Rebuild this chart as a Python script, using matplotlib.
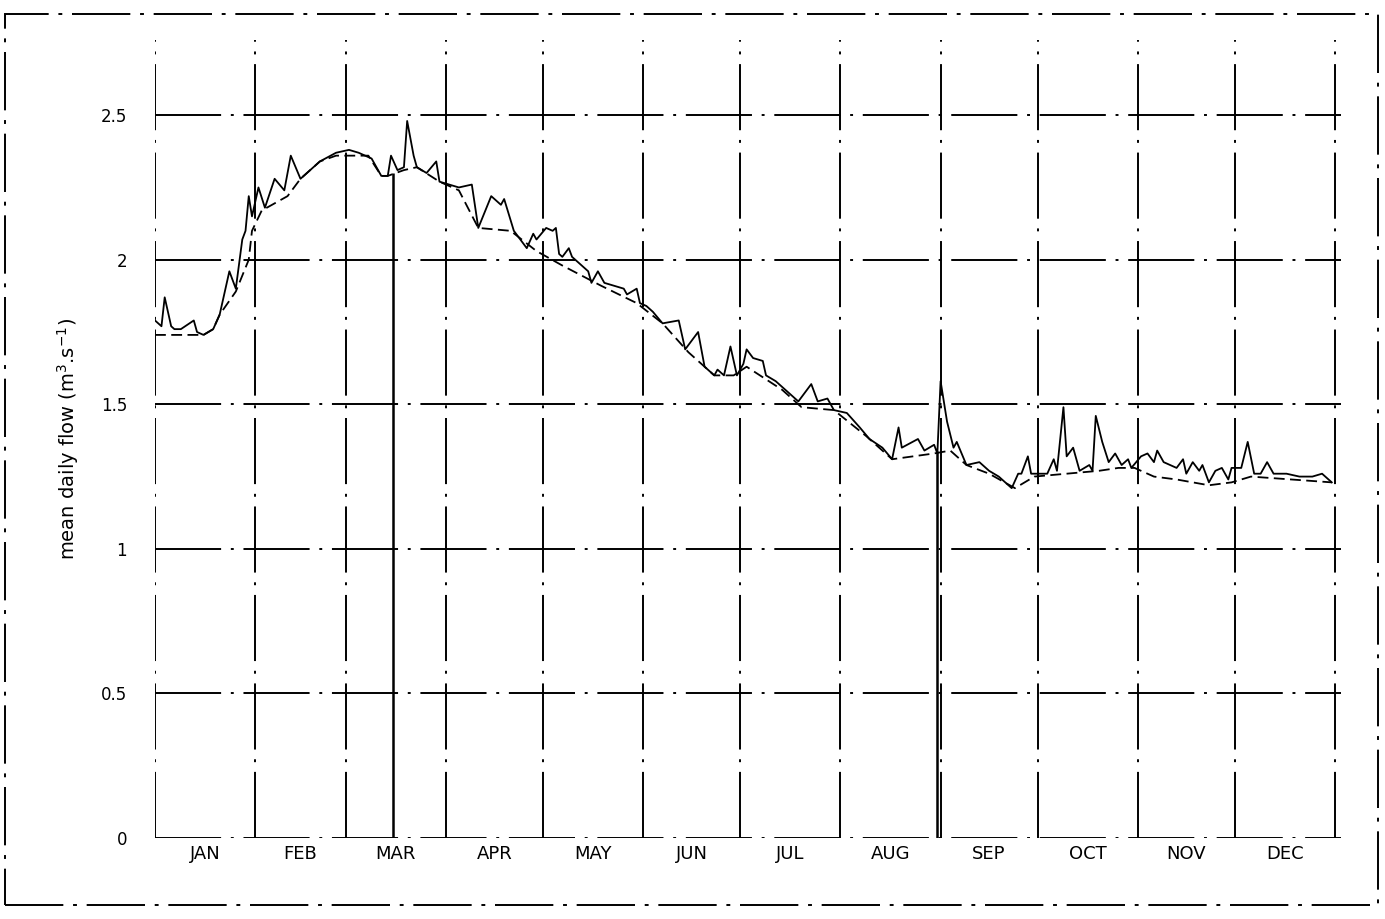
import matplotlib.pyplot as plt
from matplotlib.patches import Rectangle

# mean daily flow (day of year, m3/s)
flow_day = [0, 2, 3, 5, 6, 8, 12, 13, 15, 18, 20, 23, 25, 27, 28, 29, 30, 32, 34, 37, 40,
            42, 45, 48, 51, 56, 60, 63, 67, 70, 72, 73, 75, 77, 78, 80, 81, 84, 87, 88, 94,
            98, 100, 104, 107, 108, 111, 115, 117, 118, 121, 123, 124, 125, 126, 128, 129,
            131, 134, 135, 137, 139, 142, 145, 146, 149, 150, 152, 154, 157, 162, 164, 168,
            170, 173, 174, 176, 178, 180, 182, 183, 185, 188, 189, 192, 194, 196, 199, 203,
            205, 208, 210, 214, 218, 221, 225, 228, 230, 231, 236, 238, 241, 242, 243, 245,
            247, 248, 251, 255, 258, 261, 265, 267, 268, 270, 271, 276, 278, 279, 281, 282,
            284, 286, 289, 290, 291, 293, 295, 297, 299, 301, 302, 305, 307, 309, 310, 312,
            314, 316, 318, 319, 321, 323, 324, 326, 328, 330, 332, 333, 336, 338, 340, 342,
            344, 346, 350, 354, 358, 361, 364]
flow_val = [1.79, 1.77, 1.87, 1.77, 1.76, 1.76, 1.79, 1.75, 1.74, 1.76, 1.81, 1.96, 1.90,
            2.07, 2.10, 2.22, 2.15, 2.25, 2.18, 2.28, 2.24, 2.36, 2.28, 2.31, 2.34, 2.37,
            2.38, 2.37, 2.35, 2.29, 2.29, 2.36, 2.31, 2.32, 2.48, 2.36, 2.32, 2.30, 2.34,
            2.27, 2.25, 2.26, 2.11, 2.22, 2.19, 2.21, 2.10, 2.04, 2.09, 2.07, 2.11, 2.10,
            2.11, 2.02, 2.01, 2.04, 2.01, 1.99, 1.96, 1.92, 1.96, 1.92, 1.91, 1.90, 1.88,
            1.90, 1.85, 1.84, 1.82, 1.78, 1.79, 1.69, 1.75, 1.63, 1.60, 1.62, 1.60, 1.70,
            1.60, 1.64, 1.69, 1.66, 1.65, 1.60, 1.58, 1.56, 1.54, 1.51, 1.57, 1.51, 1.52,
            1.48, 1.47, 1.42, 1.38, 1.35, 1.31, 1.42, 1.35, 1.38, 1.34, 1.36, 1.33, 1.58,
            1.44, 1.35, 1.37, 1.29, 1.30, 1.27, 1.25, 1.21, 1.26, 1.26, 1.32, 1.26, 1.26,
            1.31, 1.27, 1.49, 1.32, 1.35, 1.27, 1.29, 1.27, 1.46, 1.37, 1.30, 1.33, 1.29,
            1.31, 1.28, 1.32, 1.33, 1.30, 1.34, 1.30, 1.29, 1.28, 1.31, 1.26, 1.30, 1.27,
            1.29, 1.23, 1.27, 1.28, 1.24, 1.28, 1.28, 1.37, 1.26, 1.26, 1.30, 1.26, 1.26,
            1.25, 1.25, 1.26, 1.23]

# baseflow (smooth dashed curve)
base_day = [0, 15, 18, 20, 25, 29, 30, 33, 41, 45, 51, 56, 66, 70, 72, 77, 81, 88, 94, 100,
            110, 118, 126, 138, 149, 157, 165, 173, 179, 183, 194, 200, 210, 220, 228, 241,
            246, 251, 258, 266, 272, 282, 292, 298, 303, 309, 316, 326, 333, 339, 364]
base_val = [1.74, 1.74, 1.76, 1.81, 1.89, 2.00, 2.10, 2.17, 2.22, 2.28, 2.34, 2.36, 2.36,
            2.29, 2.29, 2.31, 2.32, 2.27, 2.24, 2.11, 2.10, 2.03, 1.98, 1.91, 1.85, 1.78,
            1.68, 1.60, 1.60, 1.63, 1.55, 1.49, 1.48, 1.39, 1.31, 1.33, 1.34, 1.29, 1.26,
            1.21, 1.25, 1.26, 1.27, 1.28, 1.28, 1.25, 1.24, 1.22, 1.23, 1.25, 1.23]

# days where the record drops to zero (missing data)
gap_day = [73.5, 242]
gap_val = [2.30, 1.34]

months = ['JAN', 'FEB', 'MAR', 'APR', 'MAY', 'JUN', 'JUL', 'AUG', 'SEP', 'OCT', 'NOV', 'DEC']
month_start = [0, 31, 59, 90, 120, 151, 181, 212, 243, 273, 304, 334, 365]
yticks = [0, 0.5, 1, 1.5, 2, 2.5]
ytick_labels = ['0', '0.5', '1', '1.5', '2', '2.5']

fig = plt.figure(figsize=(13.85, 9.19), dpi=100)
W, H = 1385, 919
ax = fig.add_axes([155 / W, 81 / H, 1180 * 367 / 365 / W, 798 / H])
ax.set_xlim(0, 367)
ax.set_ylim(0, 2.76)

grid_style = dict(color='black', lw=1.4, linestyle=(0, (34, 5, 1.5, 5)))
for y in yticks:
    ax.axhline(y, **grid_style, zorder=1)
for d in month_start:
    ax.axvline(d, **grid_style, zorder=1)

ax.plot(flow_day, flow_val, color='black', lw=1.3, zorder=3)
ax.plot(base_day, base_val, color='black', lw=1.3, linestyle=(0, (6, 3)), zorder=3)
ax.vlines(gap_day, 0, gap_val, color='black', lw=1.8, zorder=3)

for s in ax.spines.values():
    s.set_visible(False)

mid = [(month_start[i] + month_start[i + 1]) / 2 for i in range(12)]
ax.set_xticks(mid)
ax.set_xticklabels(months, fontsize=13)
ax.set_yticks(yticks)
ax.set_yticklabels(ytick_labels, fontsize=12)
ax.tick_params(axis='x', length=0, pad=5)
ax.tick_params(axis='y', length=0, pad=20)
ax.set_ylabel('mean daily flow (m$^3$.s$^{-1}$)', fontsize=14, labelpad=14)

# outer frame of the scanned figure
frame = Rectangle((5 / W, 14 / H), 1373 / W, 891 / H, transform=fig.transFigure,
                  fill=False, ec='black', lw=1.4, linestyle=(0, (30, 5, 2, 5)))
fig.add_artist(frame)

fig.savefig('out.png', dpi=100)
